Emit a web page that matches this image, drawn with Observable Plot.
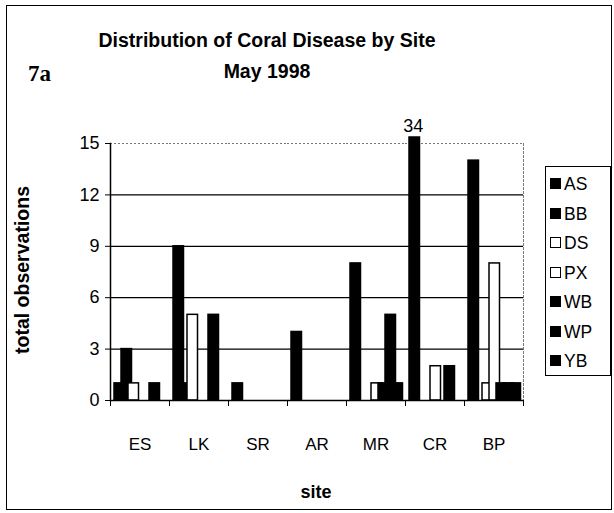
<!DOCTYPE html>
<html>
<head>
<meta charset="utf-8">
<script src="https://cdn.jsdelivr.net/npm/d3@7"></script>
<script src="https://cdn.jsdelivr.net/npm/@observablehq/plot@0.6"></script>
<style>
  html, body { margin: 0; padding: 0; background: #fff; }
  #wrap { position: relative; width: 614px; height: 513px; font-family: "Liberation Sans", Arial, sans-serif; color: #000; }
  #wrap svg { position: absolute; left: 0; top: 0; }
  .ov { position: absolute; white-space: nowrap; }
  #border { position: absolute; left: 6px; top: 5px; width: 604px; height: 503px; border: 1px solid #000; }
  #title { left: 0; width: 534px; top: 25px; text-align: center; font-weight: bold; font-size: 19.5px; line-height: 31px; }
  #fig { left: 28px; top: 61px; font-family: "Liberation Serif", "DejaVu Serif", "Times New Roman", serif; font-weight: bold; font-size: 23px; }
  #ytitle { left: 22px; top: 270px; transform: translate(-50%, -50%) rotate(-90deg); font-weight: bold; font-size: 19.5px; }
  #xtitle { left: 316px; top: 492px; transform: translate(-50%, -50%); font-weight: bold; font-size: 18px; }
  #legend { position: absolute; left: 545px; top: 166px; width: 64px; height: 208px; border: 1px solid #000; background: #fff; }
  .li { position: absolute; left: 4px; height: 20px; font-size: 17.5px; line-height: 20px; }
  .sw { display: inline-block; width: 9px; height: 9px; border: 1px solid #000; margin-right: 3px; vertical-align: 1px; }
</style>
</head>
<body>
<div id="wrap">
  <div id="border"></div>
  <div id="chart"></div>
  <div class="ov" id="title">Distribution of Coral Disease by Site<br>May 1998</div>
  <div class="ov" id="fig">7a</div>
  <div class="ov" id="ytitle">total observations</div>
  <div class="ov" id="xtitle">site</div>
  <div id="legend"></div>
</div>
<script>
// ---- data ----
const sites = ["ES", "LK", "SR", "AR", "MR", "CR", "BP"];
const seriesNames = ["AS", "BB", "DS", "PX", "WB", "WP", "YB"];
const AS = [1, 9, 1, 4, 8, 34, 14];
const BB = [3, 1, 0, 0, 0, 0, 0];
const DS = [1, 5, 0, 0, 0, 0, 1];
const PX = [0, 0, 0, 0, 1, 2, 8];
const WB = [0, 0, 0, 0, 1, 0, 1];
const WP = [1, 5, 0, 0, 5, 2, 1];
const YB = [0, 0, 0, 0, 1, 0, 1];
const yTicks = [0, 3, 6, 9, 12, 15];
const seriesFill = {AS: "black", BB: "black", DS: "white", PX: "white", WB: "black", WP: "black", YB: "black"};

const yMax = 15;            // axis maximum (bars above it are broken)
const brokenBarTop = 15.35; // drawn height of an off-scale bar

const valuesBySeries = {AS, BB, DS, PX, WB, WP, YB};
const rows = [];
seriesNames.forEach(s => {
  sites.forEach((site, i) => {
    const v = valuesBySeries[s][i];
    if (v > 0) rows.push({site, series: s, value: v, shown: Math.min(v, brokenBarTop)});
  });
});
// draw order: site-by-site, series in order so later series overlap earlier
rows.sort((a, b) => sites.indexOf(a.site) - sites.indexOf(b.site) || seriesNames.indexOf(a.series) - seriesNames.indexOf(b.series));
const offScale = rows.filter(d => d.value > yMax);

const font = "Liberation Sans, Arial, sans-serif";

const chart = Plot.plot({
  width: 614,
  height: 513,
  marginLeft: 109,
  marginRight: 91,
  marginTop: 143,
  marginBottom: 113,
  style: {fontFamily: font, color: "black", background: "transparent", overflow: "visible"},
  fx: {domain: sites, padding: 0, label: null},
  x: {domain: seriesNames, paddingInner: 0, paddingOuter: 0.71, axis: null},
  y: {domain: [0, yMax], label: null, axis: null},
  marks: [
    Plot.gridY(yTicks.filter(v => v > 0 && v < yMax), {stroke: "black", strokeOpacity: 1, strokeWidth: 1.2}),
    Plot.gridY([yMax], {stroke: "#777", strokeOpacity: 1, strokeDasharray: "2,2"}),
    Plot.frame({anchor: "right", stroke: "#777", strokeDasharray: "2,2", facetAnchor: "right"}),
    Plot.barY(rows, {
      fx: "site", x: "series", y: "shown",
      fill: d => seriesFill[d.series], stroke: "black", strokeWidth: 1.5,
      insetLeft: -1, insetRight: -2.5
    }),
    Plot.text(offScale, {fx: "site", x: "series", y: "shown", text: d => String(d.value),
      dy: -11, dx: -0.75, fontSize: 18, fill: "black"}),
    Plot.ruleY([0], {stroke: "black", strokeWidth: 1.5}),
    Plot.frame({anchor: "left", stroke: "black", strokeWidth: 1.5, facetAnchor: "left"}),
    Plot.frame({anchor: "left", stroke: "black", insetTop: 257, insetBottom: -5}),
    Plot.frame({anchor: "right", stroke: "black", insetTop: 257, insetBottom: -5, facetAnchor: "right"}),
    Plot.axisY({ticks: yTicks, tickSize: 5, tickPadding: 6, fontSize: 18, label: null}),
    Plot.axisFx({anchor: "bottom", tickSize: 0, tickPadding: 37, fontSize: 17, label: null})
  ]
});
document.getElementById("chart").appendChild(chart);

// legend
const legend = document.getElementById("legend");
seriesNames.forEach((s, i) => {
  const item = document.createElement("div");
  item.className = "li";
  item.style.top = (7 + i * 29.5) + "px";
  const sw = document.createElement("span");
  sw.className = "sw";
  sw.style.background = seriesFill[s];
  item.appendChild(sw);
  item.appendChild(document.createTextNode(s));
  legend.appendChild(item);
});
</script>
</body>
</html>
